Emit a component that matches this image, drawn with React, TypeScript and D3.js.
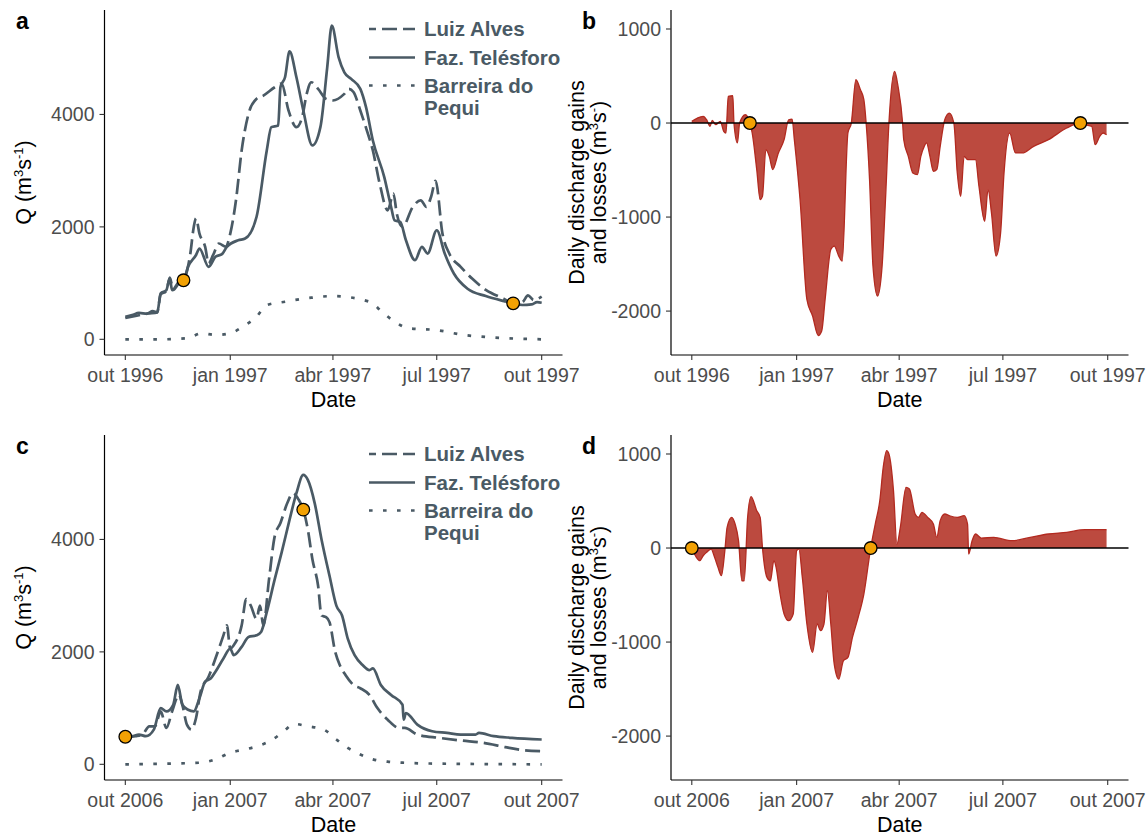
import React from "react";
import * as d3 from "d3";

// Each point: [days since 1 October of the start year, value]
type Pt = [number, number];

const startTop = new Date(1996, 9, 1);
const startBottom = new Date(2006, 9, 1);

// Panel a: discharge Q (m3/s), 1996-1997
const aFaz: Pt[] = [
  [0, 400], [6, 430], [12, 470], [19, 455], [24, 500], [28, 480], [31, 816], [36, 875], [39, 1083], [41, 875],
  [47, 1023], [51, 1050], [55, 1289], [62, 1500], [65, 1615], [73, 1289], [79, 1467], [85, 1520], [89, 1645],
  [99, 1762], [105, 1792], [115, 2176], [124, 3360], [128, 3774], [134, 3804], [136, 4484], [140, 4661],
  [144, 5123], [150, 4661], [156, 4075], [164, 3449], [171, 3774], [177, 4839], [181, 5579], [187, 5016],
  [192, 4750], [198, 4632], [206, 4455], [211, 4130], [217, 3537], [227, 2886], [233, 2354], [236, 2117],
  [241, 2088], [246, 1762], [254, 1408], [260, 1645], [265, 1526], [273, 1940], [280, 1526], [288, 1171],
  [300, 900], [316, 770], [332, 680], [340, 640], [348, 610], [356, 620], [361, 660], [365, 650],
];
const aLuiz: Pt[] = [
  [0, 380], [10, 420], [20, 460], [28, 480], [31, 800], [36, 860], [39, 1100], [42, 880], [47, 1000],
  [51, 1050], [57, 1526], [60, 2000], [62, 2150], [65, 1880], [70, 1645], [73, 1350], [77, 1500], [82, 1704],
  [88, 1650], [92, 1881], [97, 2473], [102, 3360], [108, 4011], [115, 4277], [121, 4336], [131, 4484],
  [137, 4550], [143, 4075], [150, 3774], [155, 3951], [159, 4366], [163, 4573], [169, 4455], [176, 4277],
  [182, 4248], [192, 4366], [196, 4455], [200, 4400], [206, 4070], [212, 3700], [217, 3360], [223, 2768],
  [230, 2295], [235, 2591], [238, 2236], [243, 1999], [252, 2354], [259, 2473], [264, 2354], [268, 2532],
  [272, 2820], [278, 1881], [284, 1526], [294, 1289], [304, 1080], [316, 880], [332, 720], [340, 640],
  [348, 660], [353, 780], [358, 700], [365, 760],
];
const aBarreira: Pt[] = [
  [0, 0], [30, 0], [54, 18], [67, 107], [79, 77], [92, 107], [103, 225], [115, 402], [124, 609], [140, 669],
  [163, 740], [182, 769], [214, 669], [225, 491], [236, 314], [249, 195], [272, 166], [297, 77], [320, 36],
  [365, 0],
];

// Panel b: daily discharge gains and losses, 1996-1997
const bDiff: Pt[] = [
  [0, 18], [5, 53], [10, 71], [13, 35], [16, -35], [18, 28], [21, -18], [25, 18], [28, -88], [30, -106],
  [32, 283], [36, 290], [37, 0], [40, -212], [42, 0], [47, 88], [51, 0], [53, -106], [57, -495], [60, -814],
  [62, -780], [65, -283], [68, -354], [71, -495], [76, -318], [81, -177], [85, 35], [88, 42], [90, -177],
  [95, -814], [101, -1876], [106, -2052], [111, -2260], [114, -2212], [117, -1876], [122, -1345], [125, -1309],
  [129, -1415], [132, -1469], [137, -106], [140, 0], [144, 460], [148, 354], [151, 248], [153, 0], [156, -602],
  [159, -1522], [163, -1840], [167, -1522], [170, -814], [173, 0], [178, 549], [181, 389], [185, 0],
  [186, -177], [190, -354], [194, -531], [198, -549], [201, -354], [204, -248], [206, -212], [209, -354],
  [212, -513], [215, -495], [218, -248], [222, 35], [226, 106], [230, 0], [233, -531], [236, -779],
  [239, -354], [242, -389], [249, -389], [252, -672], [257, -1044], [260, -708], [263, -956], [267, -1416],
  [271, -1168], [274, -531], [279, -106], [284, -318], [290, -318], [300, -248], [313, -177], [329, -53],
  [341, 0], [345, -18], [351, -35], [354, -230], [358, -142], [361, -106], [364, -124],
];

// Panel c: discharge Q (m3/s), 2006-2007
const cFaz: Pt[] = [
  [0, 490], [6, 500], [12, 529], [18, 500], [25, 618], [31, 1000], [36, 941], [42, 1059], [46, 1412],
  [50, 1059], [55, 970], [60, 941], [65, 1176], [70, 1470], [75, 1529], [79, 1647], [86, 1882], [92, 2059],
  [95, 1941], [102, 2088], [108, 2265], [115, 2294], [119, 2353], [124, 2706], [131, 3294], [137, 3765],
  [144, 4353], [150, 4823], [156, 5147], [160, 5059], [166, 4647], [172, 4000], [179, 3353], [185, 2823],
  [190, 2647], [195, 2235], [201, 1941], [208, 1765], [214, 1676], [217, 1706], [224, 1412], [233, 1235],
  [243, 1059], [244, 794], [246, 912], [256, 706], [269, 588], [282, 559], [294, 529], [307, 529], [310, 559],
  [323, 500], [339, 471], [365, 441],
];
const cLuiz: Pt[] = [
  [0, 482], [9, 500], [15, 529], [21, 676], [26, 676], [31, 941], [36, 647], [41, 941], [47, 1235], [50, 1059],
  [54, 706], [58, 618], [62, 824], [66, 1294], [73, 1559], [79, 1882], [86, 2294], [89, 2471], [92, 2059],
  [95, 2118], [102, 2471], [106, 2941], [110, 2824], [115, 2588], [118, 2824], [121, 2471], [126, 3294],
  [131, 4059], [136, 4294], [142, 4647], [147, 4824], [152, 4706], [156, 4529], [160, 4176], [164, 3647],
  [169, 3176], [172, 2647], [176, 2618], [179, 2529], [184, 2000], [188, 1765], [193, 1588], [200, 1412],
  [206, 1353], [214, 1235], [221, 1000], [230, 794], [240, 647], [245, 647], [256, 529], [275, 471],
  [294, 424], [314, 382], [333, 306], [346, 259], [365, 235],
];
const cBarreira: Pt[] = [
  [0, 0], [66, 29], [79, 88], [92, 206], [105, 265], [116, 324], [129, 441], [139, 588], [148, 718],
  [160, 676], [174, 618], [185, 441], [195, 294], [206, 176], [217, 88], [230, 47], [243, 29], [275, 12],
  [365, 0],
];

// Panel d: daily discharge gains and losses, 2006-2007
const dDiff: Pt[] = [
  [0, 0], [4, -99], [7, -135], [10, -82], [13, -46], [17, -11], [20, -99], [23, -206], [26, -294], [29, -28],
  [31, 220], [35, 326], [38, 255], [41, 78], [44, -348], [46, -348], [49, 326], [52, 546], [57, 397],
  [60, 326], [62, 7], [66, -312], [69, -348], [72, -135], [74, -206], [77, -454], [81, -702], [85, -773],
  [89, -702], [92, -28], [94, -11], [97, -312], [101, -808], [106, -1110], [110, -808], [113, -879],
  [116, -808], [119, -454], [122, -808], [125, -1234], [129, -1394], [133, -1199], [137, -1163], [141, -951],
  [146, -738], [151, -489], [157, 0], [161, 255], [165, 504], [168, 858], [171, 1035], [173, 1000],
  [177, 610], [180, 43], [183, 220], [188, 645], [191, 628], [196, 362], [199, 326], [202, 379], [207, 326],
  [212, 255], [215, 113], [218, 291], [222, 362], [226, 344], [233, 326], [239, 344], [242, 255], [243, -64],
  [246, 78], [249, 149], [254, 106], [265, 113], [281, 78], [297, 113], [313, 149], [329, 167], [345, 195],
  [364, 195],
];

// Highlighted points (orange)
const aDots: Pt[] = [[51, 1050], [340, 640]];
const bDots: Pt[] = [[51, 0], [341, 0]];
const cDots: Pt[] = [[0, 490], [156, 4530]];
const dDots: Pt[] = [[0, 0], [157, 0]];

const xTickLabelsTop = ["out 1996", "jan 1997", "abr 1997", "jul 1997", "out 1997"];
const xTickLabelsBottom = ["out 2006", "jan 2007", "abr 2007", "jul 2007", "out 2007"];
const xTickMonths = [0, 3, 6, 9, 12];
const yTicksQ = [0, 2000, 4000];
const yTicksDiff = [-2000, -1000, 0, 1000];
const qDomain: [number, number] = [-279, 5858];
const diffDomain: [number, number] = [-2467, 1202];
const legendLabels = [["Luiz Alves"], ["Faz. Telésforo"], ["Barreira do", "Pequi"]];

const FONT = "'Liberation Sans', Arial, Helvetica, sans-serif";
const SLATE = "#4a5a65";
const TICKTXT = "#4d4d4d";
const FILL = "#bc4a3f";
const EDGE = "#b22a20";
const DOT = "#f2a104";
const DASH = "15 6";
const DOTTED = "3.6 10.4";
const LW = 2.7;

interface Box { left: number; right: number; top: number; bottom: number; }

function useScales(box: Box, start: Date, domain: [number, number]) {
  const padX = (box.right - box.left) * 0.05 / 1.1;
  const x = d3.scaleTime()
    .domain([start, d3.timeMonth.offset(start, 12)])
    .range([box.left + padX, box.right - padX]);
  const y = d3.scaleLinear().domain(domain).range([box.bottom, box.top]);
  const dx = (day: number) => x(d3.timeDay.offset(start, day));
  return { x, y, dx };
}

function Axes({ box, x, y, start, tickLabels, yTicks }: any) {
  return (
    <g fontFamily={FONT}>
      <line x1={box.left} x2={box.left} y1={box.top} y2={box.bottom} stroke="#000" strokeWidth={1.2} />
      <line x1={box.left} x2={box.right} y1={box.bottom} y2={box.bottom} stroke="#000" strokeWidth={1.2} />
      {xTickMonths.map((m, i) => {
        const px = x(d3.timeMonth.offset(start, m));
        return (
          <g key={i}>
            <line x1={px} x2={px} y1={box.bottom} y2={box.bottom + 5} stroke="#333" strokeWidth={1.1} />
            <text x={px} y={box.bottom + 27} textAnchor="middle" fontSize={19.5} fill={TICKTXT}>
              {tickLabels[i]}
            </text>
          </g>
        );
      })}
      {yTicks.map((v: number) => (
        <g key={v}>
          <line x1={box.left - 5} x2={box.left} y1={y(v)} y2={y(v)} stroke="#333" strokeWidth={1.1} />
          <text x={box.left - 10} y={y(v)} dy="0.36em" textAnchor="end" fontSize={19.5} fill={TICKTXT}>
            {v}
          </text>
        </g>
      ))}
      <text x={(box.left + box.right) / 2} y={box.bottom + 52} textAnchor="middle" fontSize={21.5} fill="#000">
        Date
      </text>
    </g>
  );
}

function Dots({ pts, dx, y }: any) {
  return (
    <g>
      {pts.map((p: Pt, i: number) => (
        <circle key={i} cx={dx(p[0])} cy={y(p[1])} r={6.3} fill={DOT} stroke="#000" strokeWidth={1.3} />
      ))}
    </g>
  );
}

function QPanel({ box, start, tickLabels, letter, faz, luiz, barreira, dots }: any) {
  const { x, y, dx } = useScales(box, start, qDomain);
  const line = d3.line<Pt>().x((p) => dx(p[0])).y((p) => y(p[1])).curve(d3.curveMonotoneX);
  const cy = (box.top + box.bottom) / 2;
  const legendY = [19, 47.5, 75.5];
  return (
    <g>
      <Axes box={box} x={x} y={y} start={start} tickLabels={tickLabels} yTicks={yTicksQ} />
      <path d={line(barreira) || ""} fill="none" stroke={SLATE} strokeWidth={LW} strokeDasharray={DOTTED} />
      <path d={line(luiz) || ""} fill="none" stroke={SLATE} strokeWidth={LW} strokeDasharray={DASH} strokeLinejoin="round" />
      <path d={line(faz) || ""} fill="none" stroke={SLATE} strokeWidth={LW} strokeLinejoin="round" />
      <Dots pts={dots} dx={dx} y={y} />
      <text transform={`translate(31,${cy}) rotate(-90)`} textAnchor="middle" fontSize={21.5} fontFamily={FONT} fill="#000">
        Q (m<tspan dy={-8} fontSize={13}>3</tspan><tspan dy={8}>s</tspan><tspan dy={-8} fontSize={13}>-1</tspan><tspan dy={8}>)</tspan>
      </text>
      <text x={16} y={box.top + 18.5} fontSize={23} fontWeight="bold" fontFamily={FONT} fill="#000">{letter}</text>
      <g fontFamily={FONT}>
        {legendLabels.map((lab, i) => (
          <g key={i}>
            <line x1={369} x2={415} y1={box.top + legendY[i]} y2={box.top + legendY[i]} stroke={SLATE} strokeWidth={LW}
              strokeDasharray={i === 0 ? DASH : i === 2 ? DOTTED : undefined} strokeDashoffset={i === 0 ? 8 : 0} />
            {lab.map((t, j) => (
              <text key={j} x={424} y={box.top + legendY[i] + j * 22} dy="0.36em" fontSize={20.5} fontWeight="bold" fill={SLATE}>
                {t}
              </text>
            ))}
          </g>
        ))}
      </g>
    </g>
  );
}

function DiffPanel({ box, start, tickLabels, letter, diff, dots }: any) {
  const { x, y, dx } = useScales(box, start, diffDomain);
  const area = d3.area<Pt>().x((p) => dx(p[0])).y0(y(0)).y1((p) => y(p[1])).curve(d3.curveMonotoneX);
  const line = d3.line<Pt>().x((p) => dx(p[0])).y((p) => y(p[1])).curve(d3.curveMonotoneX);
  const cy = (box.top + box.bottom) / 2;
  return (
    <g>
      <Axes box={box} x={x} y={y} start={start} tickLabels={tickLabels} yTicks={yTicksDiff} />
      <path d={area(diff) || ""} fill={FILL} stroke="none" />
      <path d={line(diff) || ""} fill="none" stroke={EDGE} strokeWidth={1.3} strokeLinejoin="round" />
      <line x1={box.left} x2={box.right} y1={y(0)} y2={y(0)} stroke="#000" strokeWidth={1.6} />
      <Dots pts={dots} dx={dx} y={y} />
      <text transform={`translate(${box.left - 87},${cy}) rotate(-90)`} textAnchor="middle" fontSize={21.5} fontFamily={FONT} fill="#000">
        Daily discharge gains
      </text>
      <text transform={`translate(${box.left - 65},${cy}) rotate(-90)`} textAnchor="middle" fontSize={21.5} fontFamily={FONT} fill="#000">
        and losses (m<tspan dy={-8} fontSize={13}>3</tspan><tspan dy={8}>s</tspan><tspan dy={-8} fontSize={13}>-</tspan><tspan dy={8}>)</tspan>
      </text>
      <text x={582} y={box.top + 18.5} fontSize={23} fontWeight="bold" fontFamily={FONT} fill="#000">{letter}</text>
    </g>
  );
}

export default function App() {
  const colL = { left: 104.5, right: 562.5 };
  const colR = { left: 671, right: 1128.5 };
  const rowT = { top: 10, bottom: 355 };
  const rowB = { top: 435, bottom: 780 };
  return (
    <svg width={1146} height={836} style={{ position: "absolute", left: 0, top: 0, background: "#fff" }}>
      <rect width={1146} height={836} fill="#fff" />
      <QPanel box={{ ...colL, ...rowT }} start={startTop} tickLabels={xTickLabelsTop} letter="a"
        faz={aFaz} luiz={aLuiz} barreira={aBarreira} dots={aDots} />
      <DiffPanel box={{ ...colR, ...rowT }} start={startTop} tickLabels={xTickLabelsTop} letter="b"
        diff={bDiff} dots={bDots} />
      <QPanel box={{ ...colL, ...rowB }} start={startBottom} tickLabels={xTickLabelsBottom} letter="c"
        faz={cFaz} luiz={cLuiz} barreira={cBarreira} dots={cDots} />
      <DiffPanel box={{ ...colR, ...rowB }} start={startBottom} tickLabels={xTickLabelsBottom} letter="d"
        diff={dDiff} dots={dDots} />
    </svg>
  );
}
